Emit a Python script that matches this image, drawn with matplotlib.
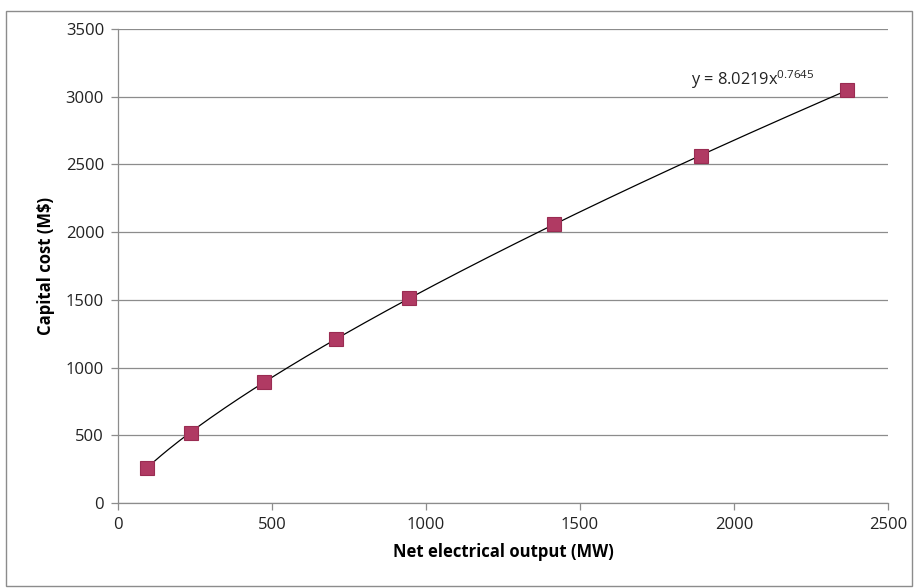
import numpy as np
import matplotlib
matplotlib.use("Agg")
import matplotlib.pyplot as plt
from matplotlib.patches import Rectangle

# Data
net_output_mw = [95, 237, 474, 708, 945, 1416, 1893, 2367]
capital_cost_musd = [258, 520, 894, 1211, 1514, 2058, 2563, 3050]
fit_a = 8.0219
fit_b = 0.7645
x_ticks = [0, 500, 1000, 1500, 2000, 2500]
y_ticks = [0, 500, 1000, 1500, 2000, 2500, 3000, 3500]

plt.rcParams['font.family'] = ['Open Sans', 'DejaVu Sans']
plt.rcParams['mathtext.fontset'] = 'custom'
plt.rcParams['mathtext.rm'] = 'Open Sans'
plt.rcParams['mathtext.it'] = 'Open Sans'

fig = plt.figure(figsize=(9.17, 5.88), dpi=100)
ax = fig.add_axes([118/917, 1-503/588, (888-118)/917, (503-29)/588])

fig.patches.append(Rectangle((0.007, 0.004), 0.988, 0.978, transform=fig.transFigure,
                             fill=False, edgecolor='#8c8c8c', linewidth=1.0))

xs = np.linspace(min(net_output_mw), max(net_output_mw), 200)
ax.plot(xs, fit_a * xs ** fit_b, color='black', linewidth=0.9, zorder=2)
ax.plot(net_output_mw, capital_cost_musd, linestyle='none', marker='s', markersize=9.5,
        markerfacecolor='#B03A63', markeredgecolor='#9A2C52', markeredgewidth=0.8, zorder=3)

ax.set_xlim(0, 2500)
ax.set_ylim(0, 3500)
ax.set_xticks(x_ticks)
ax.set_yticks(y_ticks)
ax.yaxis.grid(True, color='#8c8c8c', linewidth=0.9)
ax.set_axisbelow(True)
for s in ['top', 'right']:
    ax.spines[s].set_visible(False)
for s in ['left', 'bottom']:
    ax.spines[s].set_color('#8c8c8c')
    ax.spines[s].set_linewidth(0.9)
ax.tick_params(axis='both', colors='#8c8c8c', length=5, width=0.9, labelsize=12,
               labelcolor='#222222')
ax.tick_params(axis='y', pad=5)
ax.tick_params(axis='x', pad=5)

ax.set_xlabel('Net electrical output (MW)', fontsize=12, fontweight='bold', labelpad=7)
ax.set_ylabel('Capital cost (M$)', fontsize=12, fontweight='bold', labelpad=8)

ax.text(1860, 3125, r'y = 8.0219x$^{0.7645}$', fontsize=11.8, color='#222222',
        ha='left', va='center')

fig.savefig('out.png', dpi=100, facecolor='white')
